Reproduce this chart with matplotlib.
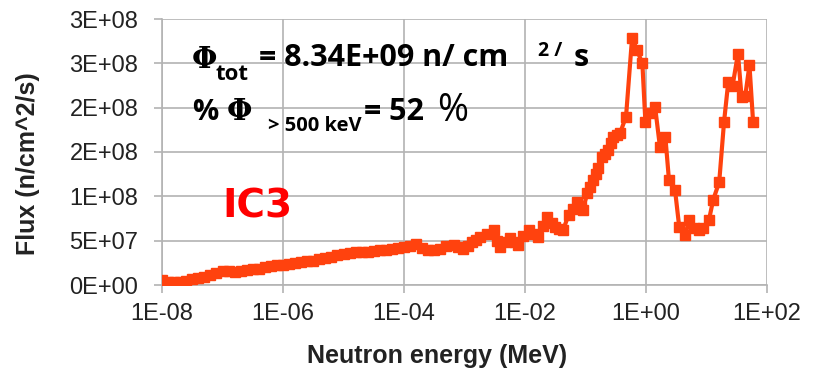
import matplotlib
matplotlib.use("Agg")
import matplotlib.pyplot as plt
import numpy as np

# Neutron spectrum at position IC3: log10(energy / MeV) and flux (1e6 n/cm^2/s)
log_energy = [
    -8.0, -7.9, -7.8, -7.7, -7.6, -7.5, -7.4, -7.3, -7.2, -7.1,
    -7.0, -6.9, -6.8, -6.7, -6.6, -6.5, -6.4, -6.3, -6.2, -6.1,
    -6.0, -5.9, -5.8, -5.7, -5.6, -5.5, -5.4, -5.3, -5.2, -5.1,
    -5.0, -4.9, -4.8, -4.7, -4.6, -4.5, -4.4, -4.3, -4.2, -4.1,
    -4.0, -3.9, -3.8, -3.7, -3.6, -3.5, -3.4, -3.3,
    -3.18, -3.10, -3.02, -2.95, -2.88, -2.81, -2.74, -2.63, -2.52, -2.46,
    -2.41, -2.32, -2.24, -2.17, -2.11, -2.03, -1.94, -1.86, -1.78, -1.70,
    -1.63, -1.56, -1.50, -1.43, -1.37, -1.28, -1.21, -1.14, -1.08, -1.04,
    -0.97, -0.92, -0.87, -0.83, -0.79, -0.72, -0.67, -0.62, -0.58, -0.54,
    -0.48, -0.43, -0.33, -0.23, -0.15, -0.06, -0.01,
    0.07, 0.15, 0.23, 0.32, 0.38, 0.48, 0.55, 0.65, 0.71, 0.79,
    0.87, 0.95, 1.04, 1.11, 1.21, 1.29, 1.36, 1.43, 1.52, 1.58,
    1.64, 1.71, 1.77,
]
flux_e6 = [
    5.5, 3.5, 3.0, 3.5, 5.0, 6.5, 8.0, 9.5, 11.5, 13.5,
    15.5, 16.0, 15.0, 15.5, 16.5, 17.5, 18.5, 20.0, 21.0, 22.0,
    23.0, 24.0, 24.5, 25.5, 27.0, 27.5, 29.0, 30.0, 31.5, 33.5,
    35.0, 36.0, 37.5, 37.0, 37.5, 38.5, 39.5, 39.0, 40.5, 42.0,
    43.0, 44.5, 46.5, 42.0, 40.0, 39.5, 40.5, 44.0,
    45.0, 43.0, 41.0, 44.0, 48.0, 51.0, 54.0, 58.0, 62.0, 50.0,
    43.0, 48.0, 53.0, 49.0, 45.0, 55.0, 62.0, 58.0, 54.0, 66.0,
    77.0, 70.0, 65.0, 63.0, 62.0, 79.0, 86.0, 94.0, 88.0, 85.0,
    104.0, 111.0, 118.0, 125.0, 132.0, 144.0, 148.0, 152.0, 160.0, 167.0,
    169.0, 171.0, 190.0, 279.0, 265.0, 250.0, 184.0,
    194.0, 201.0, 156.0, 167.0, 118.0, 107.0, 65.0, 56.0, 73.0, 64.0,
    62.0, 64.0, 73.0, 96.0, 116.0, 184.0, 229.0, 224.0, 261.0, 212.0,
    213.0, 248.0, 184.0,
]

x_ticks = [1e-8, 1e-6, 1e-4, 1e-2, 1e0, 1e2]
x_tick_labels = ["1E-08", "1E-06", "1E-04", "1E-02", "1E+00", "1E+02"]
y_ticks = [0, 5e7, 1e8, 1.5e8, 2e8, 2.5e8, 3e8]
y_tick_labels = ["0E+00", "5E+07", "1E+08", "2E+08", "2E+08", "3E+08", "3E+08"]

energy = 10.0 ** np.array(log_energy)
flux = np.array(flux_e6) * 1e6

W, H = 818, 369
fig = plt.figure(figsize=(W / 100, H / 100), dpi=100)
ax = fig.add_axes([162 / W, 1 - 285 / H, (767 - 162) / W, (285 - 19) / H])

series_color = "#FF420E"
ax.plot(energy, flux, color=series_color, lw=3.0, marker="s", ms=6.5,
        mec=series_color, mfc=series_color, zorder=3)

ax.set_xscale("log")
ax.set_xlim(1e-8, 1e2)
ax.set_ylim(0, 3e8)
ax.set_xticks(x_ticks)
ax.set_xticklabels(x_tick_labels)
ax.minorticks_off()
ax.set_yticks(y_ticks)
ax.set_yticklabels(y_tick_labels)

grid_color = "#b3b3b3"
ax.grid(True, color=grid_color, lw=1.2)
ax.set_axisbelow(True)
for side in ("top", "right"):
    ax.spines[side].set_visible(False)
for side in ("left", "bottom"):
    ax.spines[side].set_color(grid_color)
    ax.spines[side].set_linewidth(1.2)
ax.tick_params(axis="both", color=grid_color, length=6, width=1.2,
               labelsize=17, labelcolor="#222222")
ax.tick_params(axis="x", pad=7)
ax.tick_params(axis="y", pad=11)
for lab in ax.get_xticklabels() + ax.get_yticklabels():
    lab.set_family("Liberation Sans")

label_font = dict(fontsize=18, fontweight="bold", family="Liberation Sans",
                  color="#222222")
fig.text(437 / W, 1 - 363 / H, "Neutron energy (MeV)", ha="center",
         va="baseline", **label_font)
fig.text(28 / W, 1 - 164 / H, "Flux (n/cm^2/s)", ha="center", va="center",
         rotation=90, **label_font)


def put(x, y, s, size, **kw):
    fig.text(x / W, 1 - y / H, s, fontsize=size, ha="left", va="baseline", **kw)


bold = dict(fontweight="bold", family=["Open Sans", "DejaVu Sans"], color="black")
serif = dict(fontweight="bold", family=["DejaVu Serif"], color="black")

# total flux annotation
put(192, 68, "Φ", 21, **serif)
put(216, 80, "tot", 16, **bold)
put(259, 66, "= 8.34E+09 n/ cm", 22, **bold)
put(538, 56, "2 /", 14, **bold)
put(574, 66, "s", 22, **bold)

# fast fraction annotation
put(192, 120, "%", 21, **bold)
put(227, 120, "Φ", 21, **serif)
put(268, 131, "> 500 keV", 14.5, **bold)
put(364, 120, "= 52", 22, **bold)
put(437, 121, "%", 27, family=["Open Sans", "DejaVu Sans"], color="black")

put(222, 218, "IC3", 28, fontweight="bold", family=["DejaVu Sans"],
    color="#FF0000")

fig.savefig("out.png", dpi=100)
